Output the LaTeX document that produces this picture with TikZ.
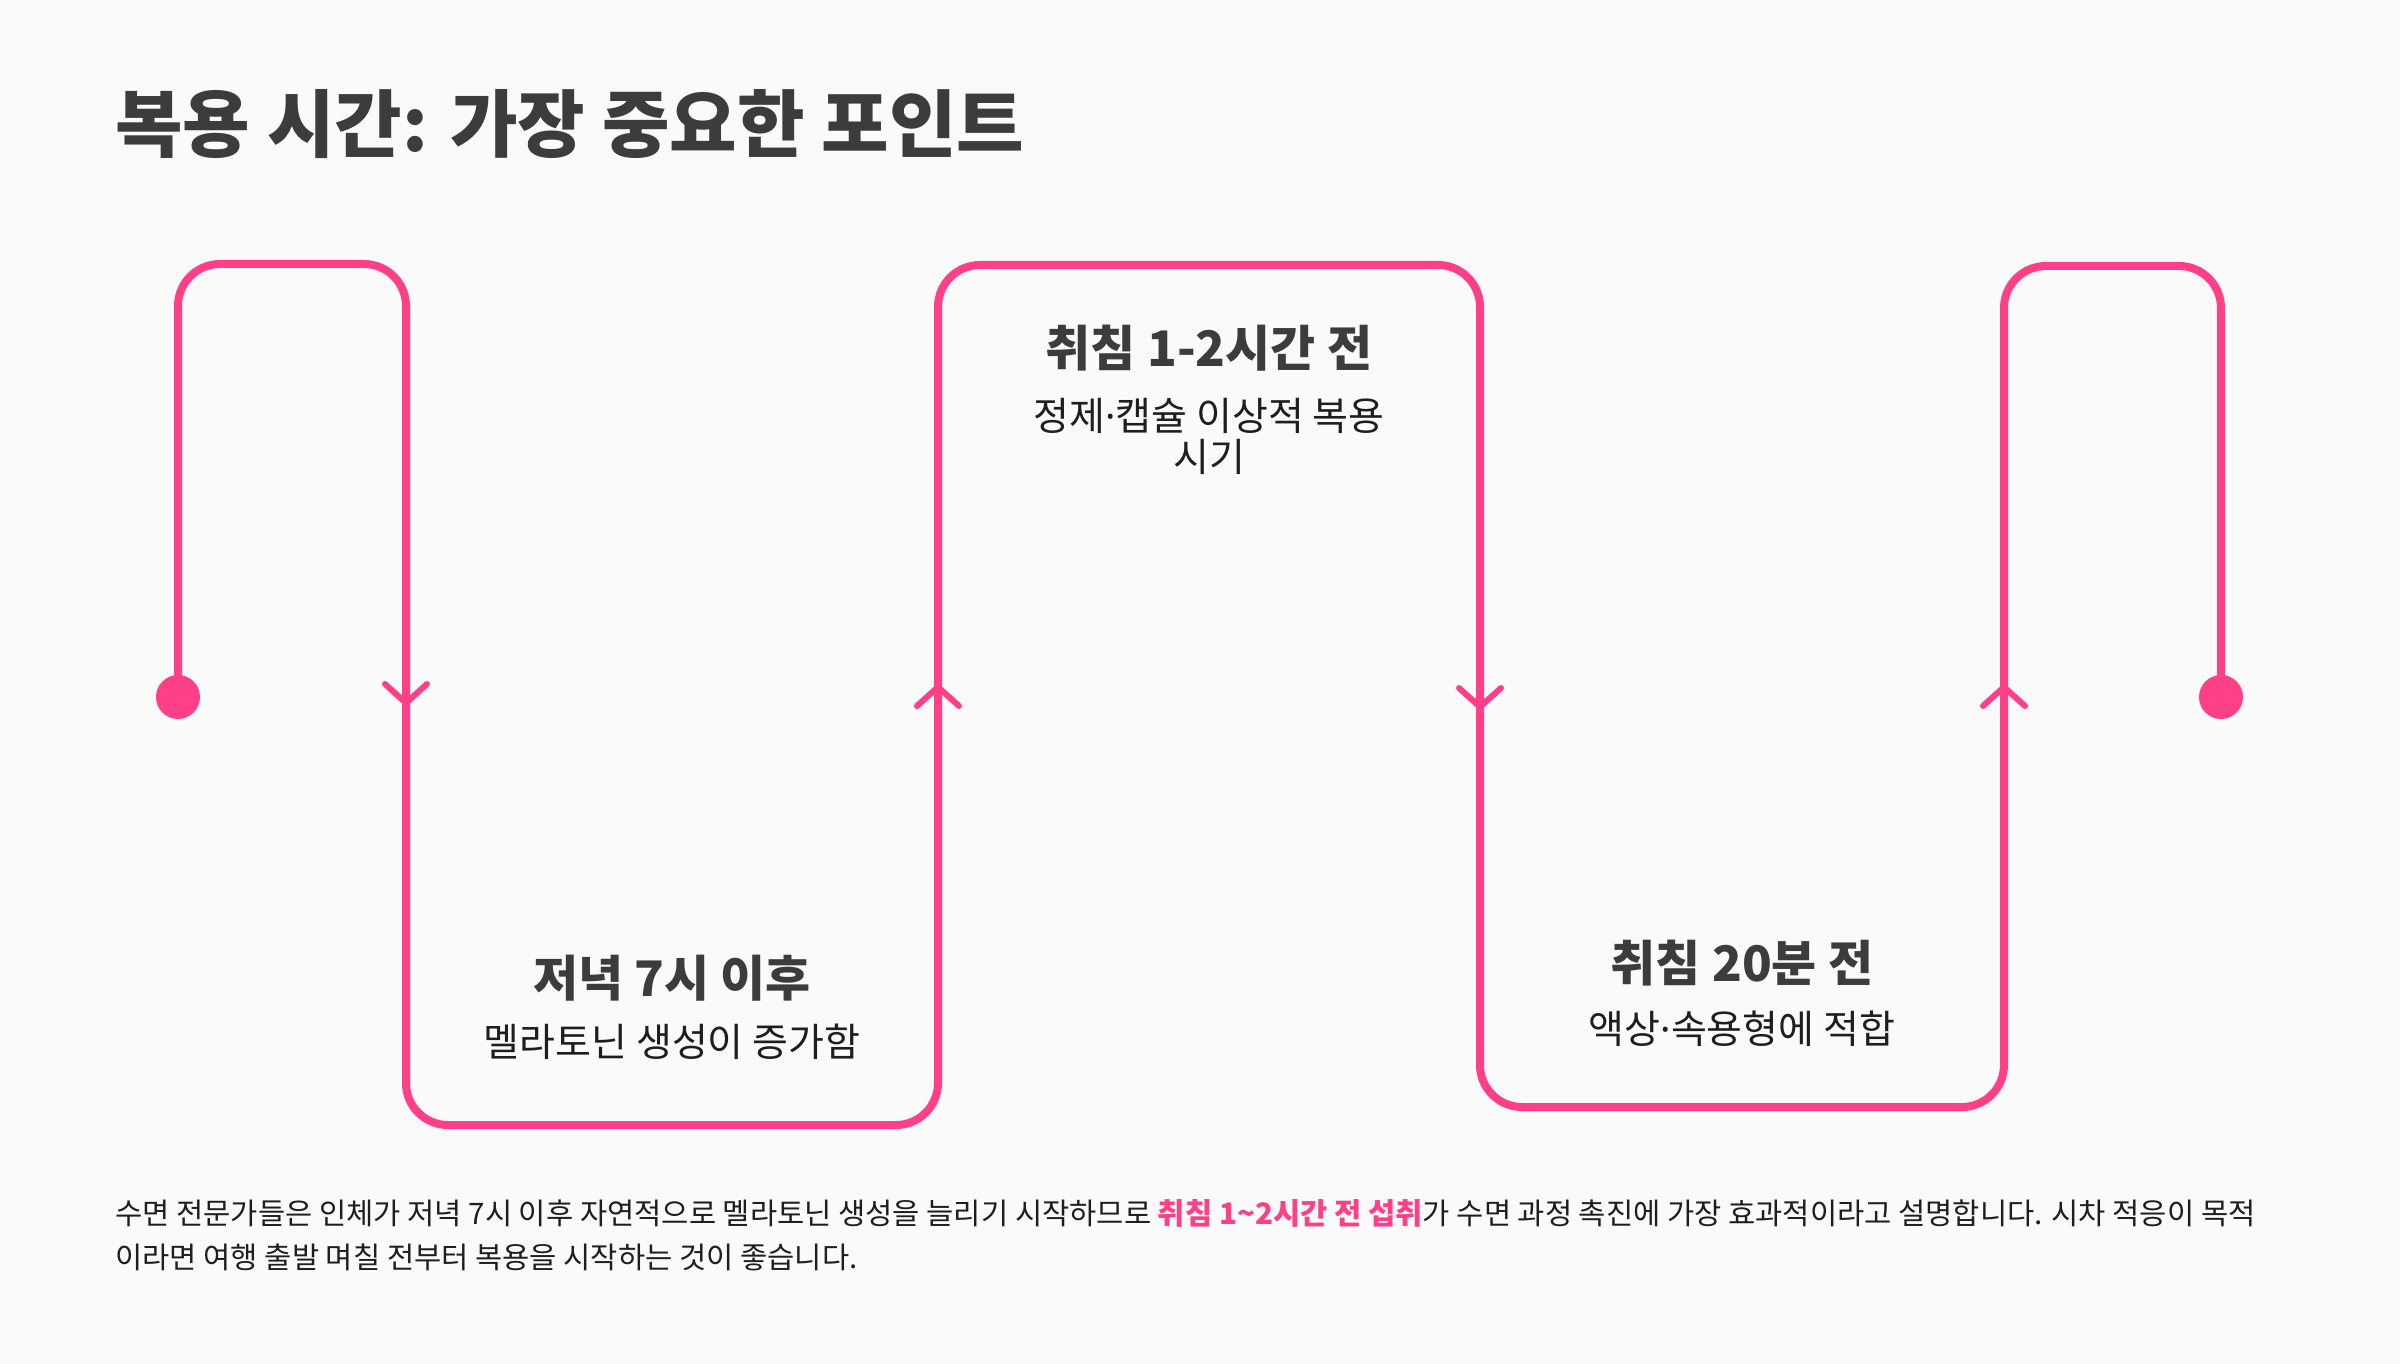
\documentclass[tikz,border=0pt]{standalone}
\usepackage{fontspec}
\setmainfont{Noto Sans CJK KR}
\newfontfamily\latinf{Noto Sans}
\usetikzlibrary{calc}
\definecolor{bgc}{HTML}{FAFAFA}
\definecolor{pinkc}{HTML}{FF3F87}
\definecolor{darkc}{HTML}{3C3C3C}
\definecolor{txtc}{HTML}{1E1E1E}
\newcommand{\mdot}{{\latinf ·}}
\tikzset{
  pathline/.style={draw=pinkc, line width=4pt, rounded corners=21pt},
  chev/.style={draw=pinkc, line width=3pt, line cap=round, line join=round},
  enddot/.style={circle, fill=pinkc, inner sep=0pt, minimum size=22pt},
  maintitle/.style={anchor=base west, inner sep=0pt, text=darkc, font=\fontsize{36.7}{44}\selectfont\bfseries},
  boxtitle/.style={anchor=base, inner sep=0pt, text=darkc, font=\fontsize{24.5}{29}\selectfont\bfseries},
  boxsub/.style={anchor=base, inner sep=0pt, text=txtc, font=\fontsize{19.5}{23}\selectfont},
  para/.style={anchor=base west, inner sep=0pt, text=txtc, font=\fontsize{14.8}{18}\selectfont}
}
\begin{document}
\begin{tikzpicture}[x=0.5pt, y=-0.5pt]
\fill[bgc] (0,0) rectangle (2400,1364);
\useasboundingbox (0,0) rectangle (2400,1364);

% title
\node[maintitle] (title) at (115,152) {복용 시간: 가장 중요한 포인트};

% end dots
\node[enddot] (start) at (178,697) {};
\node[enddot] (finish) at (2221,697) {};

% corners
\coordinate (c1) at (178,264);
\coordinate (c2) at (406,264);
\coordinate (c3) at (406,1125);
\coordinate (c4) at (938,1125);
\coordinate (c5) at (938,265);
\coordinate (c6) at (1480,265);
\coordinate (c7) at (1480,1107);
\coordinate (c8) at (2004,1107);
\coordinate (c9) at (2004,266);
\coordinate (c10) at (2221,266);

\draw[pathline] (start.center) -- (c1) -- (c2) -- (c3) -- (c4) -- (c5) -- (c6) -- (c7) -- (c8) -- (c9) -- (c10) -- (finish.center);

% arrow chevrons
\coordinate (a1) at (406,703);
\coordinate (a2) at (938,687);
\coordinate (a3) at (1480,707);
\coordinate (a4) at (2004,687);
\draw[chev] (a1) ++(-21,-19) -- (a1) -- ++(21,-19);
\draw[chev] (a2) ++(-21,19) -- (a2) -- ++(21,19);
\draw[chev] (a3) ++(-21,-19) -- (a3) -- ++(21,-19);
\draw[chev] (a4) ++(-21,19) -- (a4) -- ++(21,19);

% box texts
\node[boxtitle] (t1) at (672,996) {저녁 7시 이후};
\node[boxsub] (s1) at (672,1056) {멜라토닌 생성이 증가함};

\node[boxtitle] (t2) at (1209,366) {취침 1-2시간 전};
\node[boxsub] (s2a) at (1209,430) {정제\mdot 캡슐 이상적 복용};
\node[boxsub] (s2b) at (1209,471) {시기};

\node[boxtitle] (t3) at (1742,981) {취침 20분 전};
\node[boxsub] (s3) at (1742,1043) {액상\mdot 속용형에 적합};

% paragraph
\node[para] (p1) at (115,1224) {수면 전문가들은 인체가 저녁 7시 이후 자연적으로 멜라토닌 생성을 늘리기 시작하므로 \textcolor{pinkc}{\bfseries 취침 1\textasciitilde 2시간 전 섭취}가 수면 과정 촉진에 가장 효과적이라고 설명합니다. 시차 적응이 목적};
\node[para] (p2) at (115,1268) {이라면 여행 출발 며칠 전부터 복용을 시작하는 것이 좋습니다.};
\end{tikzpicture}
\end{document}
